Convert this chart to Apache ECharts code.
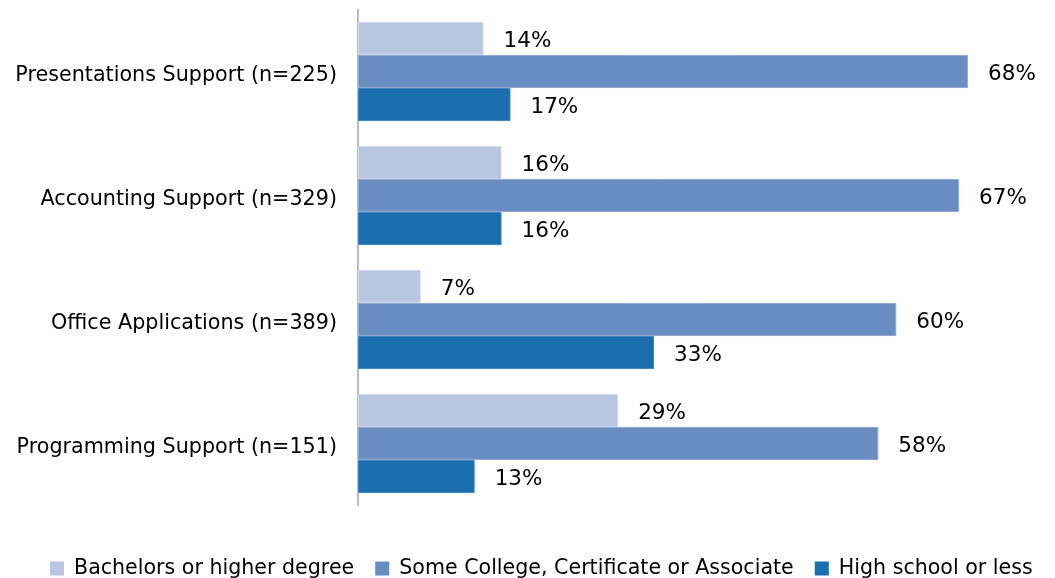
<!DOCTYPE html>
<html>
<head>
<meta charset="utf-8">
<script src="https://cdn.jsdelivr.net/npm/echarts@6/dist/echarts.min.js"></script>
<style>
  html, body { margin: 0; padding: 0; background: #fff; }
  #chart { width: 1055px; height: 578px; }
</style>
</head>
<body>
<div id="chart"></div>
<script>
// Course areas, listed top to bottom
const categories = [
  'Presentations Support (n=225)',
  'Accounting Support (n=329)',
  'Office Applications (n=389)',
  'Programming Support (n=151)'
];

// Share of enrollees by education level (%)
const seriesNames = [
  'Bachelors or higher degree',
  'Some College, Certificate or Associate',
  'High school or less'
];
const bachelors = [14, 16, 7, 29];
const someCollege = [68, 67, 60, 58];
const highSchool = [17, 16, 33, 13];

const colors = ['#B8C6E1', '#6A8DC1', '#1A6EAD'];
const borders = ['#D3DCEE', '#8FA9D3', '#3E86C0'];
const FONT = 'DejaVu Sans';

const values = [bachelors, someCollege, highSchool];

const chart = echarts.init(document.getElementById('chart'), null, { renderer: 'canvas' });

chart.setOption({
  animation: false,
  backgroundColor: '#ffffff',
  textStyle: { fontFamily: FONT, color: '#000' },
  grid: { left: 358, right: 69, top: 9.5, bottom: 72.5, containLabel: false },
  legend: {
    left: 45,
    top: 553,
    itemWidth: 14,
    itemHeight: 14,
    itemGap: 21,
    icon: 'rect',
    itemStyle: { borderWidth: 0 },
    textStyle: { fontFamily: FONT, fontSize: 20.6, color: '#000', padding: [0, 0, 0, 5] },
    data: seriesNames
  },
  xAxis: {
    type: 'value',
    min: 0,
    max: 70,
    show: false
  },
  yAxis: {
    type: 'category',
    inverse: true,
    data: categories,
    axisLine: { show: true, lineStyle: { color: '#A6A6A6', width: 1.5 } },
    axisTick: { show: false },
    axisLabel: {
      fontFamily: FONT, fontSize: 20.7, color: '#000', margin: 21,
      verticalAlign: 'top', lineHeight: 9
    }
  },
  series: seriesNames.map((name, i) => ({
    name: name,
    type: 'bar',
    data: values[i],
    barGap: '0%',
    barCategoryGap: '20%',
    itemStyle: { color: colors[i], borderColor: borders[i], borderWidth: 1 },
    label: {
      show: true,
      position: 'right',
      distance: 20,
      offset: [0, 3],
      formatter: '{c}%',
      fontFamily: FONT,
      fontSize: 21.5,
      color: '#000'
    }
  }))
});
</script>
</body>
</html>
